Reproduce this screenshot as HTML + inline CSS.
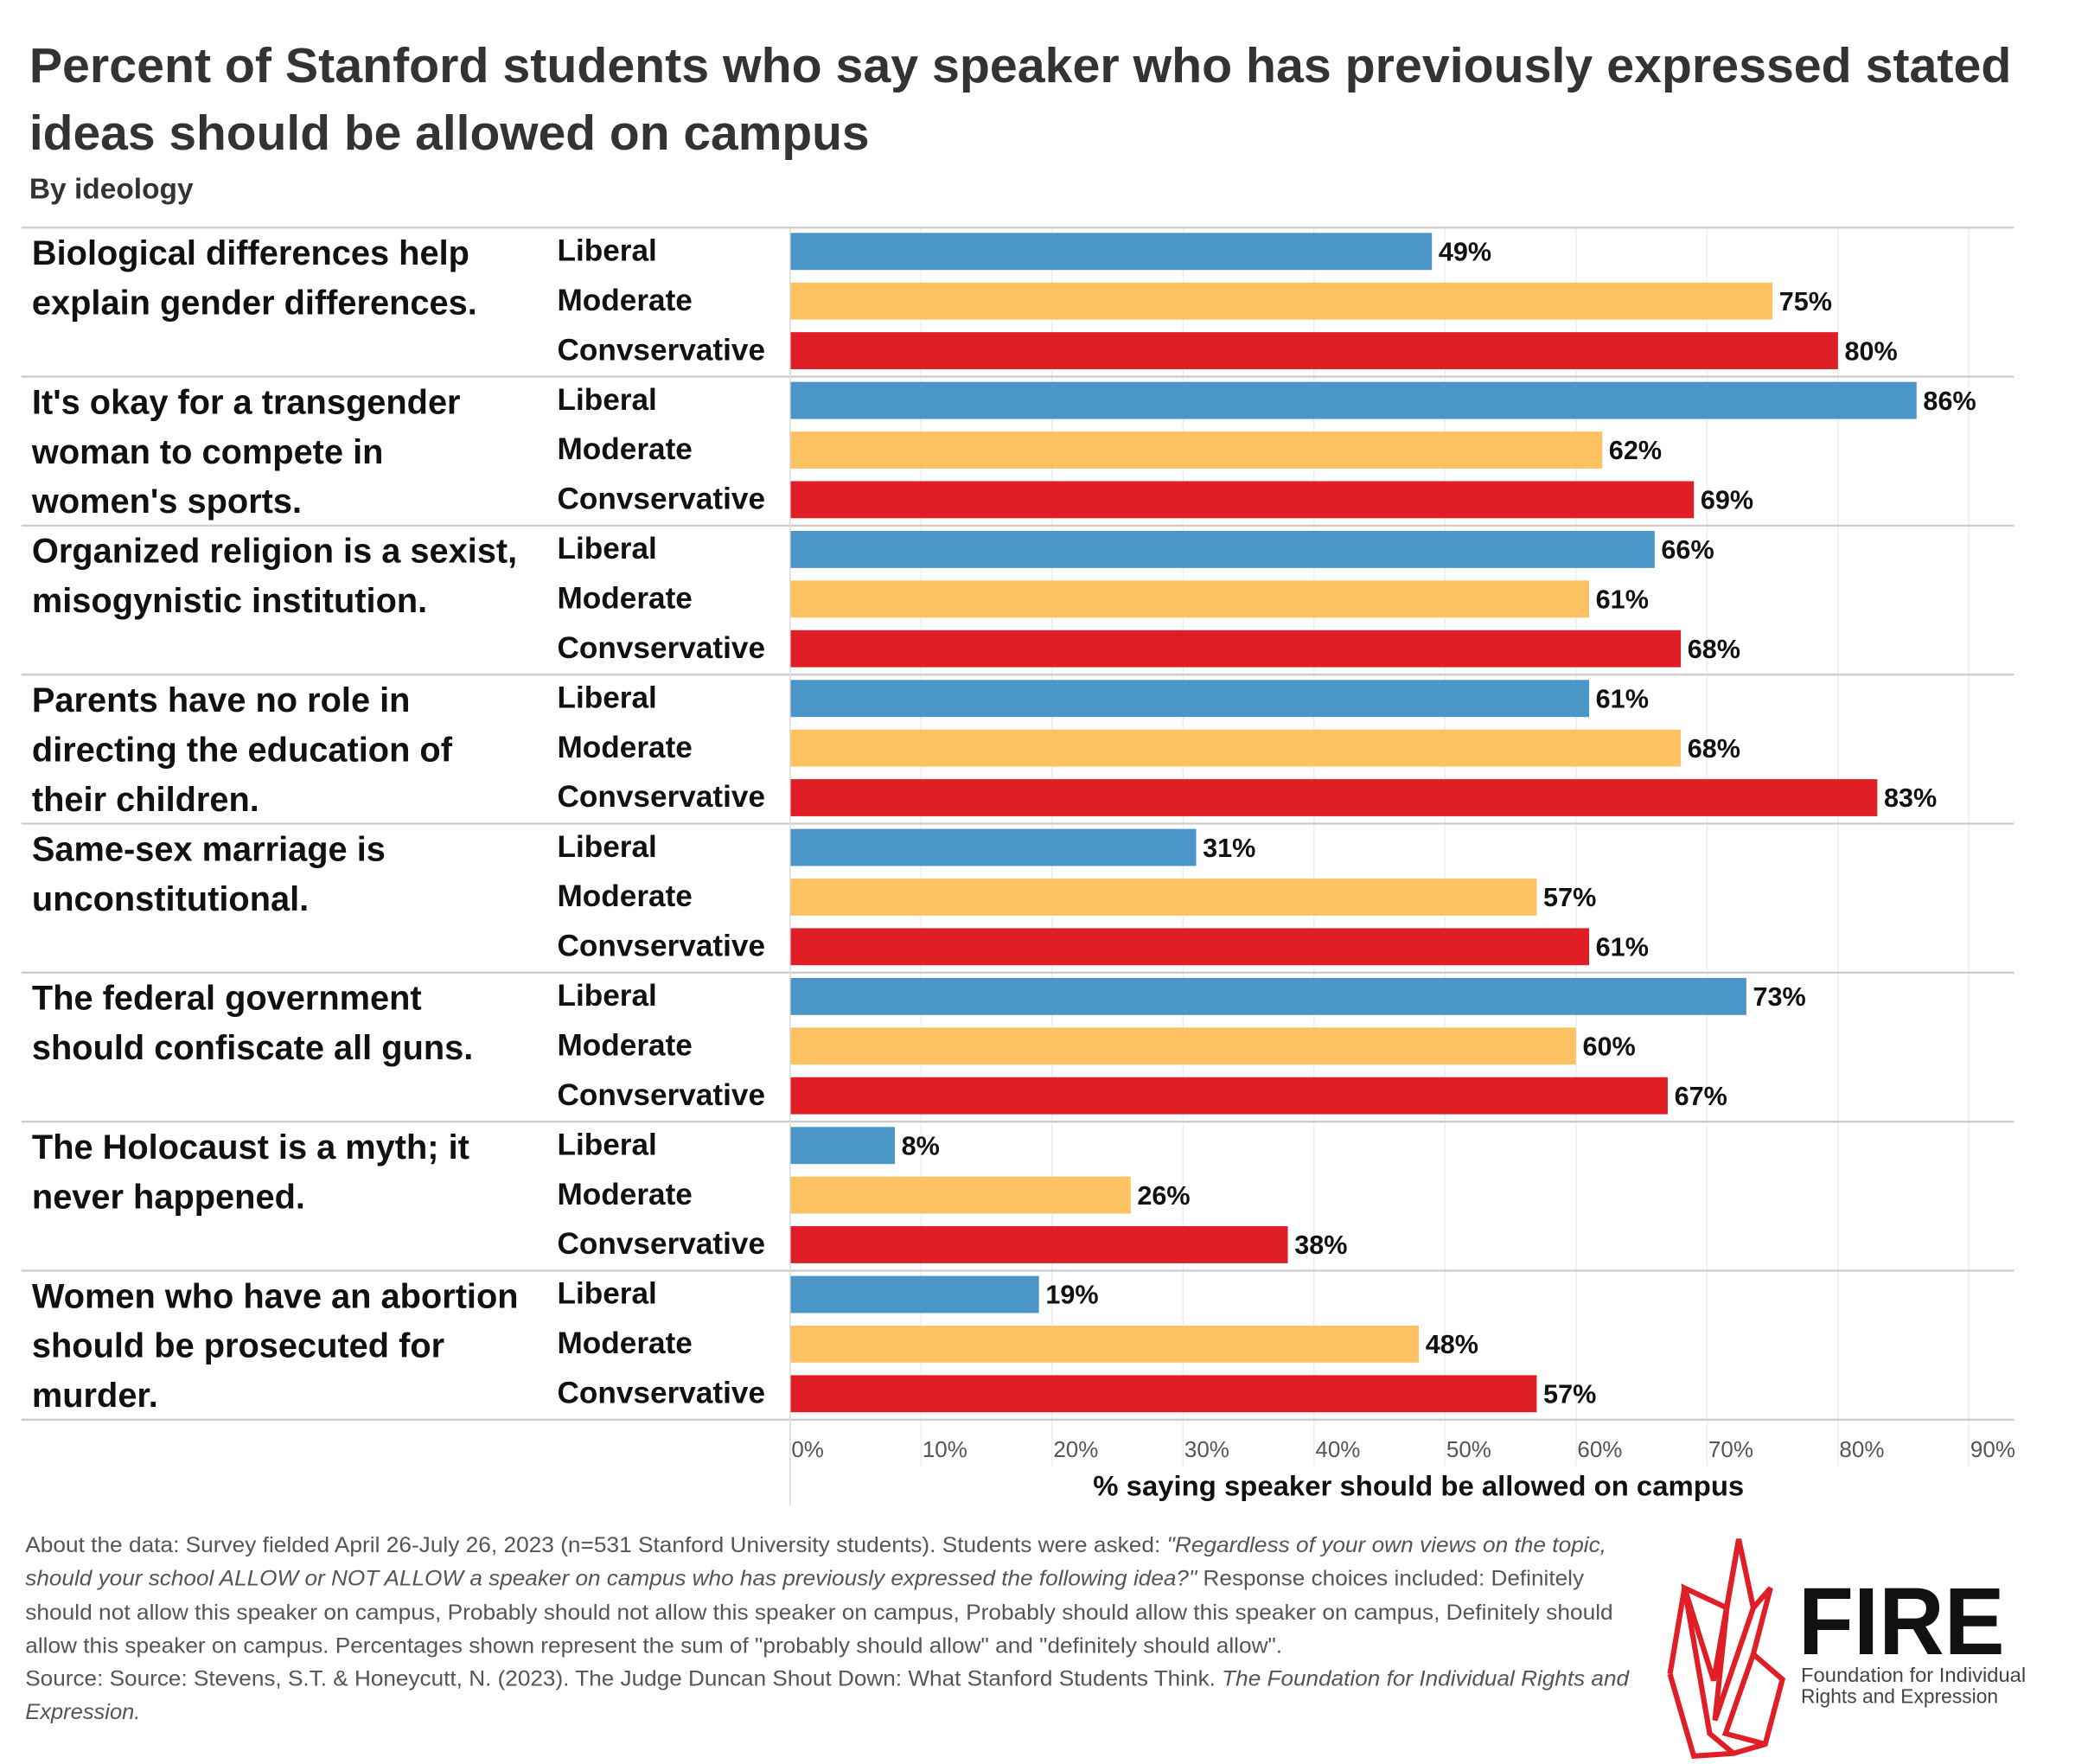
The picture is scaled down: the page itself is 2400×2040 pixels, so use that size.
<!DOCTYPE html>
<html><head><meta charset="utf-8">
<style>
html,body{margin:0;padding:0;background:#fff;}
svg{display:block;}
text{font-family:"Liberation Sans",sans-serif;}
</style></head>
<body>
<svg id="chart" width="2400" height="2040" viewBox="0 0 1568 1333" xmlns="http://www.w3.org/2000/svg">
<text x="22" y="62" font-size="37" font-weight="bold" fill="#333" textLength="1498" lengthAdjust="spacingAndGlyphs">Percent of Stanford students who say speaker who has previously expressed stated</text>
<text x="22" y="113" font-size="37" font-weight="bold" fill="#333" textLength="635" lengthAdjust="spacingAndGlyphs">ideas should be allowed on campus</text>
<text x="22" y="150" font-size="22" font-weight="bold" fill="#333" textLength="124" lengthAdjust="spacingAndGlyphs">By ideology</text>
<g id="grid"></g>
<g id="rows"></g>
<g id="axis"></g>
<text x="1072" y="1130" text-anchor="middle" font-size="21" font-weight="bold" fill="#111" textLength="492" lengthAdjust="spacingAndGlyphs">% saying speaker should be allowed on campus</text>
<g font-size="16.5" fill="#555">
<text x="19" y="1173" textLength="1195" lengthAdjust="spacingAndGlyphs">About the data: Survey fielded April 26-July 26, 2023 (n=531 Stanford University students). Students were asked: <tspan font-style="italic">"Regardless of your own views on the topic,</tspan></text>
<text x="19" y="1198" textLength="1178" lengthAdjust="spacingAndGlyphs"><tspan font-style="italic">should your school ALLOW or NOT ALLOW a speaker on campus who has previously expressed the following idea?"</tspan> Response choices included: Definitely</text>
<text x="19" y="1224" textLength="1200" lengthAdjust="spacingAndGlyphs">should not allow this speaker on campus, Probably should not allow this speaker on campus, Probably should allow this speaker on campus, Definitely should</text>
<text x="19" y="1249" textLength="950" lengthAdjust="spacingAndGlyphs">allow this speaker on campus. Percentages shown represent the sum of "probably should allow" and "definitely should allow".</text>
<text x="19" y="1274" textLength="1212" lengthAdjust="spacingAndGlyphs">Source: Source: Stevens, S.T. &amp; Honeycutt, N. (2023). The Judge Duncan Shout Down: What Stanford Students Think. <tspan font-style="italic">The Foundation for Individual Rights and</tspan></text>
<text x="19" y="1299" font-style="italic" textLength="87" lengthAdjust="spacingAndGlyphs">Expression.</text>
</g>
<g>
<g fill="none" stroke="#e01e26" stroke-width="4" stroke-linejoin="miter">
<polygon points="1273,1200 1292,1310 1310,1325 1334,1318 1347,1269 1325,1250 1338,1200 1325,1215 1314,1163 1305,1215"/>
<polyline points="1273,1200 1295,1270 1314,1163"/>
<polyline points="1262,1265 1280,1327 1310,1325"/>
<polyline points="1262,1265 1273,1200"/>
<polyline points="1305,1215 1296,1300 1325,1215"/>
<polyline points="1325,1250 1304,1310 1334,1318"/>
</g>
<text x="1359" y="1250" font-size="72" font-weight="bold" fill="#111" textLength="156" lengthAdjust="spacingAndGlyphs">FIRE</text>
<text x="1361" y="1271" font-size="15" fill="#444" textLength="170" lengthAdjust="spacingAndGlyphs">Foundation for Individual</text>
<text x="1361" y="1287" font-size="15" fill="#444" textLength="149" lengthAdjust="spacingAndGlyphs">Rights and Expression</text>
</g>
</svg>
<script>
const questions = [
 ["Biological differences help","explain gender differences."],
 ["It's okay for a transgender","woman to compete in","women's sports."],
 ["Organized religion is a sexist,","misogynistic institution."],
 ["Parents have no role in","directing the education of","their children."],
 ["Same-sex marriage is","unconstitutional."],
 ["The federal government","should confiscate all guns."],
 ["The Holocaust is a myth; it","never happened."],
 ["Women who have an abortion","should be prosecuted for","murder."]
];
const groups = ["Liberal","Moderate","Convservative"];
const liberal = [49,86,66,61,31,73,8,19];
const moderate = [75,62,61,68,57,60,26,48];
const conservative = [80,69,68,83,61,67,38,57];
const ticks = [0,10,20,30,40,50,60,70,80,90];

const NS="http://www.w3.org/2000/svg";
const X0=597, PX=9.9, TOP=172, GH=112.6;
const colors=["#4a96c8","#fec262","#e01e26"];
const x=v=>X0+v*PX;
function mk(tag,attrs,parent,txt){const e=document.createElementNS(NS,tag);for(const k in attrs)e.setAttribute(k,attrs[k]);if(txt!==undefined)e.textContent=txt;parent.appendChild(e);return e;}
const grid=document.getElementById('grid'), rows=document.getElementById('rows'), axis=document.getElementById('axis');
const bottom=TOP+questions.length*GH;
ticks.forEach(t=>{
  const l=mk('line',{x1:x(t),x2:x(t),y1:TOP,y2:1108,stroke:'#eee','stroke-width':1},grid);
  
  
  const tx=mk('text',{x:x(t)+1,y:1101,'font-size':17,fill:'#555'},axis,t+'%');
  
  
});
mk('line',{x1:X0,x2:X0,y1:TOP,y2:1138,stroke:'#ddd','stroke-width':1},axis);
const series=[liberal,moderate,conservative];
questions.forEach((q,i)=>{
  const gy=TOP+i*GH;
  const sep=mk('line',{x1:16,x2:1522,y1:gy,y2:gy,stroke:'#ccc','stroke-width':1.5},rows);
  
  
  q.forEach((line,j)=>{
    const t=mk('text',{x:24,y:gy+28+j*37.5,'font-size':26,'font-weight':'bold',fill:'#111'},rows,line);
    
    
  });
  groups.forEach((g,k)=>{
    const by=gy+4+k*37.5, v=series[k][i];
    const gl=mk('text',{x:421,y:by+21,'font-size':23,'font-weight':'bold',fill:'#111'},rows,g);
    
    
    const r=mk('rect',{x:X0,y:by,width:x(v)-X0,height:28,fill:colors[k]},rows);
    
    
    const vl=mk('text',{x:x(v)+5,y:by+21,'font-size':20,'font-weight':'bold',fill:'#111'},rows,v+'%');
    
    
  });
});
const last=mk('line',{x1:16,x2:1522,y1:bottom,y2:bottom,stroke:'#ccc','stroke-width':1.5},rows);


</script>
</body></html>
